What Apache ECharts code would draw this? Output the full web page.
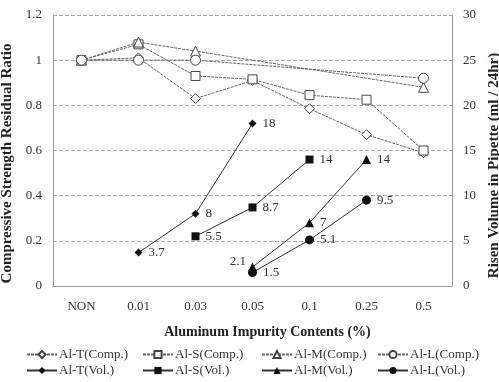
<!DOCTYPE html>
<html>
<head>
<meta charset="utf-8">
<script src="https://cdn.jsdelivr.net/npm/echarts@6/dist/echarts.min.js"></script>
<style>
  html, body { margin: 0; padding: 0; background: #fff; }
  #chart { width: 499px; height: 382px; }
</style>
</head>
<body>
<div id="chart"></div>
<script>
// 横轴分类
var categories = ['NON', '0.01', '0.03', '0.05', '0.1', '0.25', '0.5'];

// 抗压强度残余比 (左轴)
var tComp = [1.0, 1.01, 0.83, 0.91, 0.785, 0.67, 0.59];
var sComp = [1.0, 1.07, 0.93, 0.915, 0.845, 0.825, 0.60];
var mComp = [1.0, 1.08, 1.04, null, null, null, 0.88];
var lComp = [1.0, 1.0, 1.0, null, null, null, 0.92];

// 膨胀体积 (右轴)
var tVol = [null, 3.7, 8, 18, null, null, null];
var sVol = [null, null, 5.5, 8.7, 14, null, null];
var mVol = [null, null, null, 2.1, 7, 14, null];
var lVol = [null, null, null, 1.5, 5.1, 9.5, null];

var serif = 'Liberation Serif';
var chart = echarts.init(document.getElementById('chart'));

function compSeries(name, data, symbol, size) {
  return {
    name: name, type: 'line', yAxisIndex: 0, data: data,
    connectNulls: true, symbol: symbol, symbolSize: size,
    lineStyle: { color: '#666', width: 1, type: [3, 1] },
    itemStyle: { color: '#fff', borderColor: '#444', borderWidth: 1 },
    emphasis: { disabled: true }
  };
}

function volSeries(name, data, symbol, size) {
  return {
    name: name, type: 'line', yAxisIndex: 1, data: data,
    symbol: symbol, symbolSize: size,
    lineStyle: { color: '#333', width: 1 },
    itemStyle: { color: '#111' },
    label: { show: true, position: 'right', distance: 6, fontFamily: serif, fontSize: 13, color: '#333' },
    emphasis: { disabled: true }
  };
}

function legendCol(left, names) {
  return {
    orient: 'vertical', left: left, top: 343, itemGap: 3,
    itemWidth: 30, itemHeight: 9,
    textStyle: { fontFamily: serif, fontSize: 13, color: '#333', padding: [0, 0, 0, -3] },
    data: names
  };
}

var mVolSeries = volSeries('Al-M(Vol.)', mVol, 'triangle', 9);
// 2.1 的标注在点的左上方
mVolSeries.data = mVol.map(function (v, i) {
  if (i === 3) return { value: v, label: { position: 'left', offset: [4, -5] } };
  return v;
});

var nameStyle = { fontFamily: serif, fontWeight: 'bold', fontSize: 15, color: '#222' };

var optionData = {
  animation: false,
  grid: { left: 53, right: 47, top: 15, bottom: 96, outerBoundsMode: 'none' },
  legend: [
    legendCol(21, ['Al-T(Comp.)', 'Al-T(Vol.)']),
    legendCol(137, ['Al-S(Comp.)', 'Al-S(Vol.)']),
    legendCol(256, ['Al-M(Comp.)', 'Al-M(Vol.)']),
    legendCol(372, ['Al-L(Comp.)', 'Al-L(Vol.)'])
  ],
  xAxis: {
    type: 'category', data: categories, boundaryGap: true,
    name: 'Aluminum Impurity Contents (%)', nameLocation: 'middle', nameGap: 39,
    nameTextStyle: Object.assign({}, nameStyle, { fontSize: 14, padding: [0, 0, 0, 30] }),
    axisLine: { lineStyle: { color: '#999' } },
    axisTick: { show: false },
    axisLabel: { fontFamily: serif, fontSize: 13, color: '#333', margin: 14 }
  },
  yAxis: [
    {
      type: 'value', min: 0, max: 1.2, interval: 0.2,
      name: 'Compressive Strength Residual Ratio', nameLocation: 'middle', nameGap: 36,
      nameTextStyle: Object.assign({}, nameStyle, { padding: [0, 26, 0, 0] }),
      axisLine: { show: true, lineStyle: { color: '#999' } },
      axisTick: { show: false },
      axisLabel: { fontFamily: serif, fontSize: 13, color: '#333', margin: 11 },
      splitLine: { lineStyle: { color: '#aaa', type: [4, 2] } }
    },
    {
      type: 'value', min: 0, max: 30, interval: 5, position: 'right',
      name: 'Risen Volume in Pipette (ml / 24hr)', nameLocation: 'middle', nameGap: 35, nameRotate: 90,
      nameTextStyle: Object.assign({}, nameStyle, { padding: [0, 30, 0, 0] }),
      axisLine: { show: true, lineStyle: { color: '#999' } },
      axisTick: { show: false },
      axisLabel: { fontFamily: serif, fontSize: 13, color: '#333', margin: 11 },
      splitLine: { show: false }
    }
  ],
  series: [
    compSeries('Al-T(Comp.)', tComp, 'diamond', 10),
    compSeries('Al-S(Comp.)', sComp, 'rect', 9),
    compSeries('Al-M(Comp.)', mComp, 'triangle', 10),
    compSeries('Al-L(Comp.)', lComp, 'circle', 10),
    volSeries('Al-T(Vol.)', tVol, 'diamond', 8),
    volSeries('Al-S(Vol.)', sVol, 'rect', 8),
    mVolSeries,
    volSeries('Al-L(Vol.)', lVol, 'circle', 9)
  ]
};
chart.setOption(optionData);
</script>
</body>
</html>
